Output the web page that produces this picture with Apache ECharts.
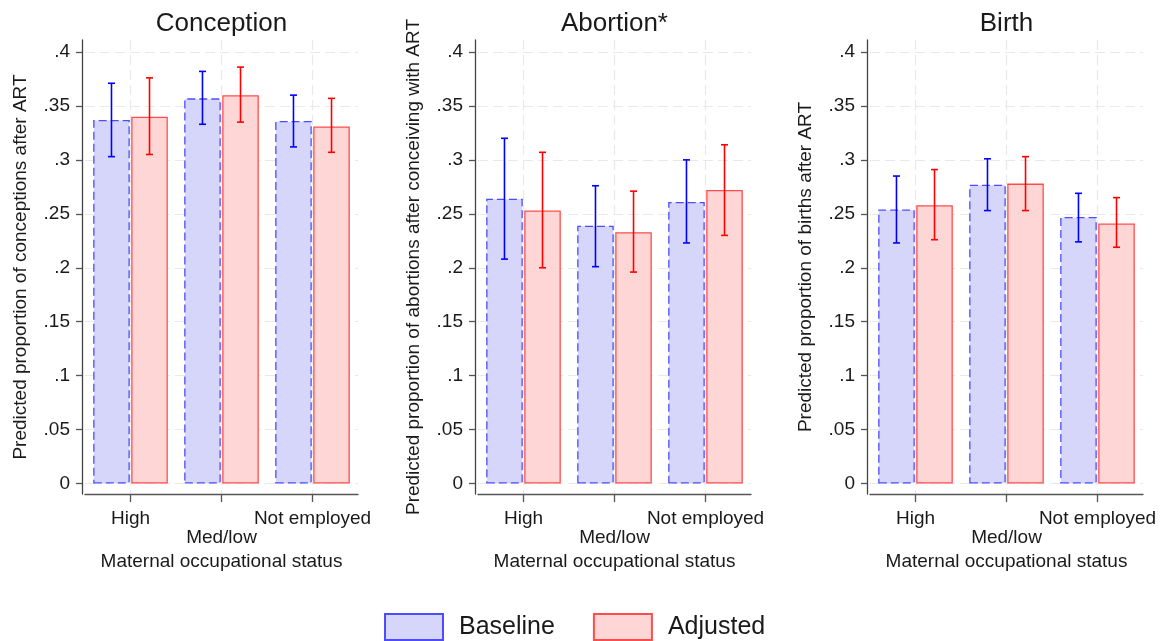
<!DOCTYPE html>
<html>
<head>
<meta charset="utf-8">
<title>Predicted proportions by maternal occupational status</title>
<script src="https://cdn.jsdelivr.net/npm/echarts@6/dist/echarts.min.js"></script>
<style>
  html, body { margin: 0; padding: 0; background: #fff; }
  #chart { width: 1163px; height: 641px; }
</style>
</head>
<body>
<div id="chart"></div>
<script>
// Occupational groups on the x axis
const categories = ['High', 'Med/low', 'Not employed'];

// Panel titles and y-axis titles
const panelTitles = ['Conception', 'Abortion*', 'Birth'];
const yTitles = [
  'Predicted proportion of conceptions after ART',
  'Predicted proportion of abortions after conceiving with ART',
  'Predicted proportion of births after ART'
];

// Predicted proportions (point estimates)
const conceptionBaseline = [0.337, 0.357, 0.336];
const conceptionAdjusted = [0.340, 0.360, 0.331];
const abortionBaseline   = [0.264, 0.239, 0.261];
const abortionAdjusted   = [0.253, 0.233, 0.272];
const birthBaseline      = [0.254, 0.277, 0.247];
const birthAdjusted      = [0.258, 0.278, 0.241];

// 95% confidence limits [lower, upper]
const conceptionBaselineCI = [[0.303, 0.371], [0.333, 0.382], [0.312, 0.360]];
const conceptionAdjustedCI = [[0.305, 0.376], [0.335, 0.386], [0.307, 0.357]];
const abortionBaselineCI   = [[0.208, 0.320], [0.201, 0.276], [0.223, 0.300]];
const abortionAdjustedCI   = [[0.200, 0.307], [0.196, 0.271], [0.230, 0.314]];
const birthBaselineCI      = [[0.223, 0.285], [0.253, 0.301], [0.224, 0.269]];
const birthAdjustedCI      = [[0.226, 0.291], [0.253, 0.303], [0.219, 0.265]];

// Y-axis tick values and their labels
const yTicks = [0, 0.05, 0.1, 0.15, 0.2, 0.25, 0.3, 0.35, 0.4];
const yTickLabels = ['0', '.05', '.1', '.15', '.2', '.25', '.3', '.35', '.4'];

const panels = [
  { baseline: conceptionBaseline, adjusted: conceptionAdjusted, baseCI: conceptionBaselineCI, adjCI: conceptionAdjustedCI },
  { baseline: abortionBaseline,   adjusted: abortionAdjusted,   baseCI: abortionBaselineCI,   adjCI: abortionAdjustedCI },
  { baseline: birthBaseline,      adjusted: birthAdjusted,      baseCI: birthBaselineCI,      adjCI: birthAdjustedCI }
];

const FONT = '"Liberation Sans", Arial, Helvetica, sans-serif';
const TEXT = '#1a1a1a';
const AXIS = '#555';
const GRID_LINE = { color: '#e9e9e9', width: 1.2, type: [10, 5] };

const BAR_CAT_GAP = 0.18;  // fraction of a band left empty
const BAR_GAP = 0.04;      // gap between the two bars, fraction of bar width

const gridLefts = [85, 478, 870];
const gridWidth = 273;

// Error bar drawn at the centre of the baseline (side = -1) or adjusted (side = +1) bar
function errorBar(side, color) {
  return function (params, api) {
    const idx = api.value(0);
    const lo = api.coord([idx, api.value(1)]);
    const hi = api.coord([idx, api.value(2)]);
    const band = api.size([1, 0])[0];
    const barW = band * (1 - BAR_CAT_GAP) / (2 + BAR_GAP);
    const x = lo[0] + side * barW * (0.5 + BAR_GAP / 2);
    const cap = 3.5;
    const style = { stroke: color, lineWidth: 1.6 };
    return {
      type: 'group',
      children: [
        { type: 'line', shape: { x1: x, y1: lo[1], x2: x, y2: hi[1] }, style: style },
        { type: 'line', shape: { x1: x - cap, y1: hi[1], x2: x + cap, y2: hi[1] }, style: style },
        { type: 'line', shape: { x1: x - cap, y1: lo[1], x2: x + cap, y2: lo[1] }, style: style }
      ]
    };
  };
}

const grid = [], xAxis = [], yAxis = [], series = [], title = [];

panels.forEach(function (p, i) {
  grid.push({ left: gridLefts[i], width: gridWidth, top: 40, height: 454 });

  title.push({
    text: panelTitles[i],
    left: gridLefts[i] + gridWidth / 2,
    top: 11,
    padding: 0,
    textAlign: 'center',
    textStyle: { fontFamily: FONT, fontSize: 26, fontWeight: 'normal', color: TEXT }
  });

  xAxis.push({
    type: 'category',
    gridIndex: i,
    data: categories,
    boundaryGap: true,
    name: 'Maternal occupational status',
    nameLocation: 'middle',
    nameGap: 56,
    nameTextStyle: { fontFamily: FONT, fontSize: 19, color: TEXT },
    axisLine: { show: true, onZero: false, lineStyle: { color: AXIS, width: 1.3 } },
    axisTick: { show: true, alignWithLabel: true, length: 8, lineStyle: { color: AXIS, width: 1.3 } },
    axisLabel: {
      fontFamily: FONT, fontSize: 19, color: TEXT, margin: 15, lineHeight: 19,
      interval: 0,
      formatter: function (v, k) { return k % 2 === 1 ? '\n' + v : v; }
    },
    splitLine: { show: true, alignWithLabel: true, lineStyle: GRID_LINE }
  });

  yAxis.push({
    type: 'value',
    gridIndex: i,
    offset: 3,
    min: -0.0097,
    max: 0.4111,
    name: yTitles[i],
    nameLocation: 'middle',
    nameGap: 52,
    nameTextStyle: { fontFamily: FONT, fontSize: 19, color: TEXT },
    axisLine: { show: true, lineStyle: { color: '#444', width: 1.3 } },
    axisTick: { show: true, length: 6, customValues: yTicks, lineStyle: { color: AXIS, width: 1.3 } },
    axisLabel: {
      fontFamily: FONT, fontSize: 19, color: TEXT, margin: 12,
      customValues: yTicks,
      formatter: function (v) {
        const k = yTicks.findIndex(function (t) { return Math.abs(t - v) < 1e-9; });
        return k >= 0 ? yTickLabels[k] : '';
      }
    },
    splitLine: { show: true, lineStyle: GRID_LINE }
  });

  series.push({
    name: 'Baseline',
    type: 'bar',
    xAxisIndex: i, yAxisIndex: i,
    data: p.baseline,
    barCategoryGap: (BAR_CAT_GAP * 100) + '%',
    barGap: (BAR_GAP * 100) + '%',
    z: 2,
    itemStyle: { color: '#d6d6fb', borderColor: '#4d4dff', borderWidth: 1.3, borderType: [8, 4] },
    emphasis: { disabled: true }
  });
  series.push({
    name: 'Adjusted',
    type: 'bar',
    xAxisIndex: i, yAxisIndex: i,
    data: p.adjusted,
    barCategoryGap: (BAR_CAT_GAP * 100) + '%',
    barGap: (BAR_GAP * 100) + '%',
    z: 2,
    itemStyle: { color: '#ffd6d6', borderColor: '#ff4d4d', borderWidth: 1.3 },
    emphasis: { disabled: true }
  });
  series.push({
    type: 'custom',
    xAxisIndex: i, yAxisIndex: i,
    z: 3,
    silent: true,
    renderItem: errorBar(-1, '#0000ff'),
    data: p.baseCI.map(function (ci, k) { return [k, ci[0], ci[1]]; })
  });
  series.push({
    type: 'custom',
    xAxisIndex: i, yAxisIndex: i,
    z: 3,
    silent: true,
    renderItem: errorBar(1, '#ff0000'),
    data: p.adjCI.map(function (ci, k) { return [k, ci[0], ci[1]]; })
  });
});

const chart = echarts.init(document.getElementById('chart'), null, { renderer: 'canvas' });
chart.setOption({
  backgroundColor: '#fff',
  animation: false,
  title: title,
  grid: grid,
  xAxis: xAxis,
  yAxis: yAxis,
  legend: {
    data: ['Baseline', 'Adjusted'],
    left: 384,
    top: 613,
    icon: 'rect',
    itemWidth: 58,
    itemHeight: 26,
    itemGap: 38,
    padding: 0,
    selectedMode: false,
    textStyle: { fontFamily: FONT, fontSize: 25, color: TEXT, padding: [0, 0, 0, 11] }
  },
  series: series
});
</script>
</body>
</html>
